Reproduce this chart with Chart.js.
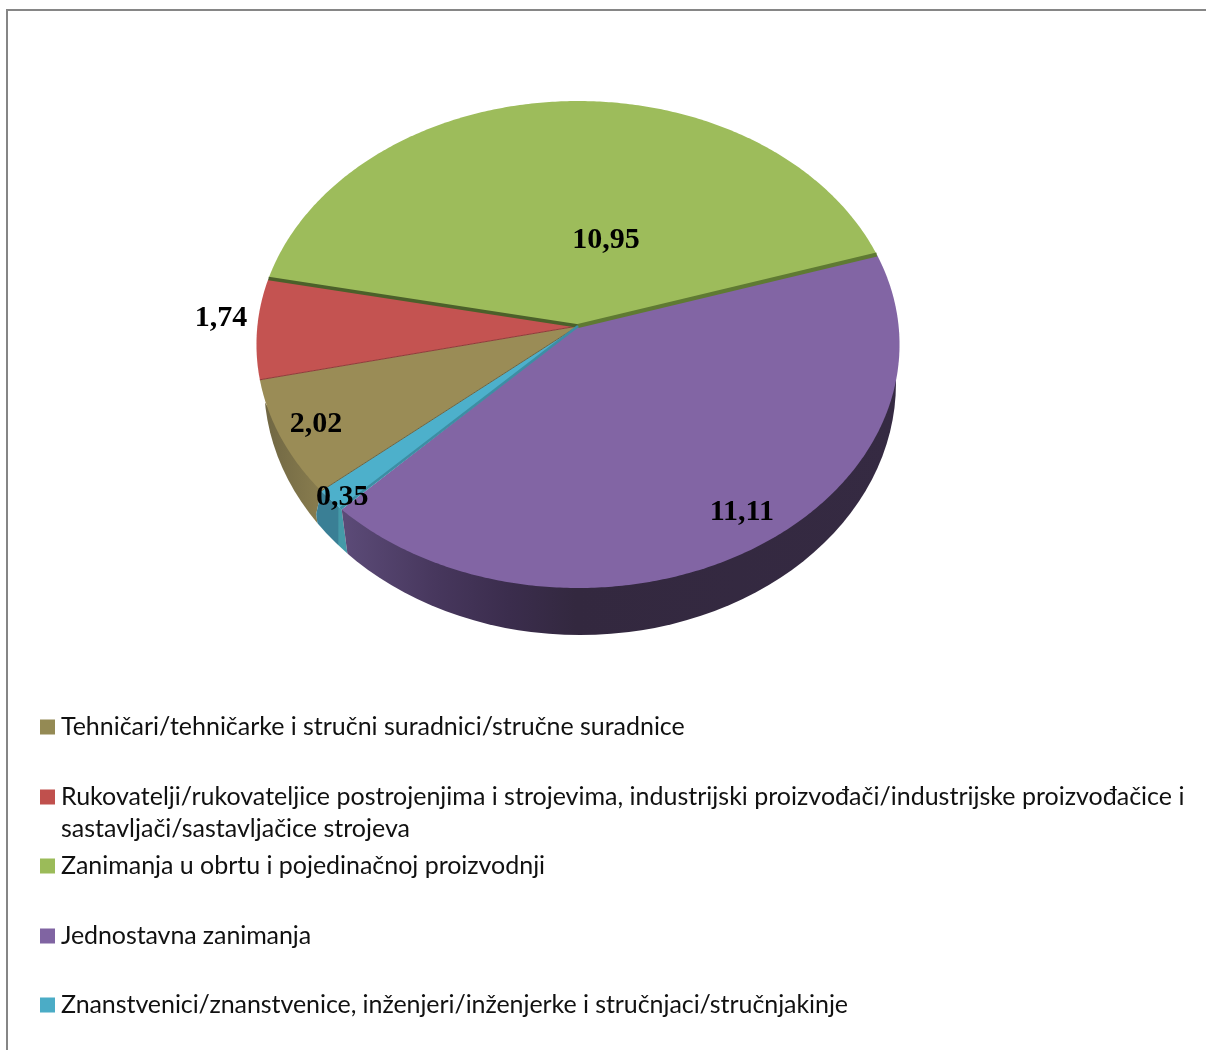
<!DOCTYPE html>
<html lang="hr">
<head>
<meta charset="utf-8">
<title>Pie chart</title>
<script src="https://cdn.jsdelivr.net/npm/chart.js@4"></script>
<style>
html,body{margin:0;padding:0;background:#fff;overflow:hidden;width:1206px;height:1050px}
#frame{position:absolute;left:6px;top:9px;width:1300px;height:1200px;border:2px solid #868686;box-sizing:border-box}
#wrap{position:absolute;left:0;top:0;width:1206px;height:1050px}
</style>
</head>
<body>
<div id="frame"></div>
<div id="wrap"><canvas id="c" width="1206" height="1050"></canvas></div>
<script>
// ---- data ----
const categories = [
  "Tehničari/tehničarke i stručni suradnici/stručne suradnice",
  "Rukovatelji/rukovateljice postrojenjima i strojevima, industrijski proizvođači/industrijske proizvođačice i sastavljači/sastavljačice strojeva",
  "Zanimanja u obrtu i pojedinačnoj proizvodnji",
  "Jednostavna zanimanja",
  "Znanstvenici/znanstvenice, inženjeri/inženjerke i stručnjaci/stručnjakinje"
];
const values = [2.02, 1.74, 10.95, 11.11, 0.35];
const valueLabels = ["2,02", "1,74", "10,95", "11,11", "0,35"];

// ---- styles ----
const faceColors = ["#9a8c56", "#c45351", "#9dbc5b", "#8265a4", "#4db0cb"];
const legendColors = ["#948a54", "#c0504d", "#9bbb59", "#8064a2", "#4bacc6"];
const edgeColors = ["#6d6340", "#8e3b39", "#4b602a", "#5f7a33", "#3d8ea4"];
const edgeWidths = [1, 1, 3.5, 4, 2.5];
const startTrim = [0, 0, 0.4, 0.55, -0.6];   // degrees, small visual trims of the drawn rim
const endTrim = [0, 0, 0.4, -0.6, 0];
const edgeTrim = [0, 0, 0.15, 0.45, -0.3];
const wallStops = {
  0: [[0, "#6f6643"], [1, "#8a7e4f"]],
  3: [[0, "#5c4b78"], [0.17, "#47375d"], [0.3, "#3b2d4d"], [0.42, "#33283f"], [1, "#352a42"]],
  4: [[0, "#3a7f95"], [0.7, "#3a7f95"], [0.75, "#449aa8"], [1, "#449aa8"]]
};
const labelAngles = [154.1, 182.1, 283.5, 56.1, 136.5];
const labelRadii = [0.882, 1.118, 0.384, 0.866, 0.963];
const labelLift = 2;
const legendRowY = [727, 797, 866, 936, 1005];
const legendSpacing = [-0.03, 0, -0.03, -0.1, -0.07];

// ---- 3D projection of the pie disc ----
const tilt = { k: -0.076, squash: 0.7551 };
const lower = { cx: 580, cy: 383, rx: 316, ry: 252, slant: 0.13 };
const rad = d => d * Math.PI / 180;

function project(arc, angle, r) {
  const u = r * Math.cos(angle), v = r * Math.sin(angle), w = 1 + tilt.k * v;
  return { x: arc.x + arc.outerRadius * u / w, y: arc.y + arc.outerRadius * tilt.squash * v / w };
}
function faceRim(ctx, arc, from, to) {
  const n = Math.max(2, Math.ceil((to - from) / 0.01));
  for (let i = 0; i <= n; i++) {
    const p = project(arc, from + (to - from) * i / n, 1);
    ctx.lineTo(p.x, p.y);
  }
}
function wall(ctx, region, stops, x0, x1) {
  ctx.save();
  ctx.beginPath();
  region.forEach((p, i) => i ? ctx.lineTo(p.x, p.y) : ctx.moveTo(p.x, p.y));
  ctx.closePath();
  ctx.clip();
  const g = ctx.createLinearGradient(x0, 0, x1, 0);
  stops.forEach(s => g.addColorStop(s[0], s[1]));
  ctx.fillStyle = g;
  ctx.beginPath();
  ctx.ellipse(lower.cx, lower.cy, lower.rx, lower.ry, 0, 0, Math.PI * 2);
  ctx.fill();
  ctx.restore();
}

const pie3d = {
  id: "pie3d",
  beforeDatasetsDraw(chart) {
    const ctx = chart.ctx, arcs = chart.getDatasetMeta(0).data;
    const teal = arcs[4];
    const a = project(teal, teal.endAngle, 1);                     // brown / teal rim corner
    const b = project(teal, teal.startAngle + rad(startTrim[4]), 1); // teal / purple rim corner
    const step = [a, { x: a.x - 5, y: a.y + 23 }, { x: a.x - 1, y: a.y + 54 }, { x: a.x + 26, y: a.y + 216 }];
    const slantDown = { x: b.x + lower.slant * (700 - b.y), y: 700 };
    wall(ctx, [{ x: 200, y: 300 }, ...[a, ...step.slice(1)], { x: 200, y: 700 }], wallStops[0], 262, a.x + 3);
    wall(ctx, [...step, slantDown, b], wallStops[4], a.x - 5, b.x + 5);
    wall(ctx, [b, slantDown, { x: 1000, y: 700 }, { x: 1000, y: 250 }], wallStops[3], b.x, 899);
    // top faces
    arcs.forEach((arc, i) => {
      ctx.beginPath();
      ctx.moveTo(arc.x, arc.y);
      faceRim(ctx, arc, arc.startAngle + rad(startTrim[i]), arc.endAngle + rad(endTrim[i]));
      ctx.closePath();
      ctx.fillStyle = arc.options.backgroundColor;
      ctx.fill();
    });
    // cut edges between slices
    arcs.forEach((arc, i) => {
      const p = project(arc, arc.startAngle + rad(edgeTrim[i]), 1);
      ctx.beginPath();
      ctx.moveTo(arc.x, arc.y);
      ctx.lineTo(p.x, p.y);
      ctx.lineWidth = edgeWidths[i];
      ctx.strokeStyle = edgeColors[i];
      ctx.stroke();
    });
    return false;
  },
  afterDraw(chart) {
    const ctx = chart.ctx, arcs = chart.getDatasetMeta(0).data;
    // value labels
    ctx.save();
    ctx.font = "bold 30px 'Liberation Serif'";
    ctx.fillStyle = "#000";
    ctx.textAlign = "center";
    ctx.textBaseline = "middle";
    arcs.forEach((arc, i) => {
      const p = project(arc, rad(labelAngles[i]), labelRadii[i]);
      ctx.fillText(valueLabels[i], p.x, p.y + labelLift);
    });
    ctx.restore();
    // legend
    ctx.save();
    ctx.font = "25px Lato";
    ctx.textBaseline = "middle";
    chart.data.labels.forEach((label, i) => {
      ctx.letterSpacing = legendSpacing[i] + "px";
      ctx.fillStyle = legendColors[i];
      ctx.fillRect(40, legendRowY[i] - 7.5, 15, 15);
      ctx.fillStyle = "#111";
      let line = "", y = legendRowY[i];
      label.split(" ").forEach(word => {
        const t = line ? line + " " + word : word;
        if (ctx.measureText(t).width > 1140) {
          ctx.fillText(line, 61, y);
          y += 32;
          line = word;
        } else line = t;
      });
      ctx.fillText(line, 61, y);
    });
    ctx.restore();
  }
};

new Chart(document.getElementById("c"), {
  type: "pie",
  data: {
    labels: categories,
    datasets: [{ data: values, backgroundColor: faceColors, borderWidth: 0 }]
  },
  options: {
    responsive: false,
    animation: false,
    rotation: 229.6,
    layout: { padding: { top: 5.4, bottom: 403.4, left: 0, right: 50 } },
    plugins: { legend: { display: false }, tooltip: { enabled: false }, title: { display: false } }
  },
  plugins: [pie3d]
});
</script>
</body>
</html>
